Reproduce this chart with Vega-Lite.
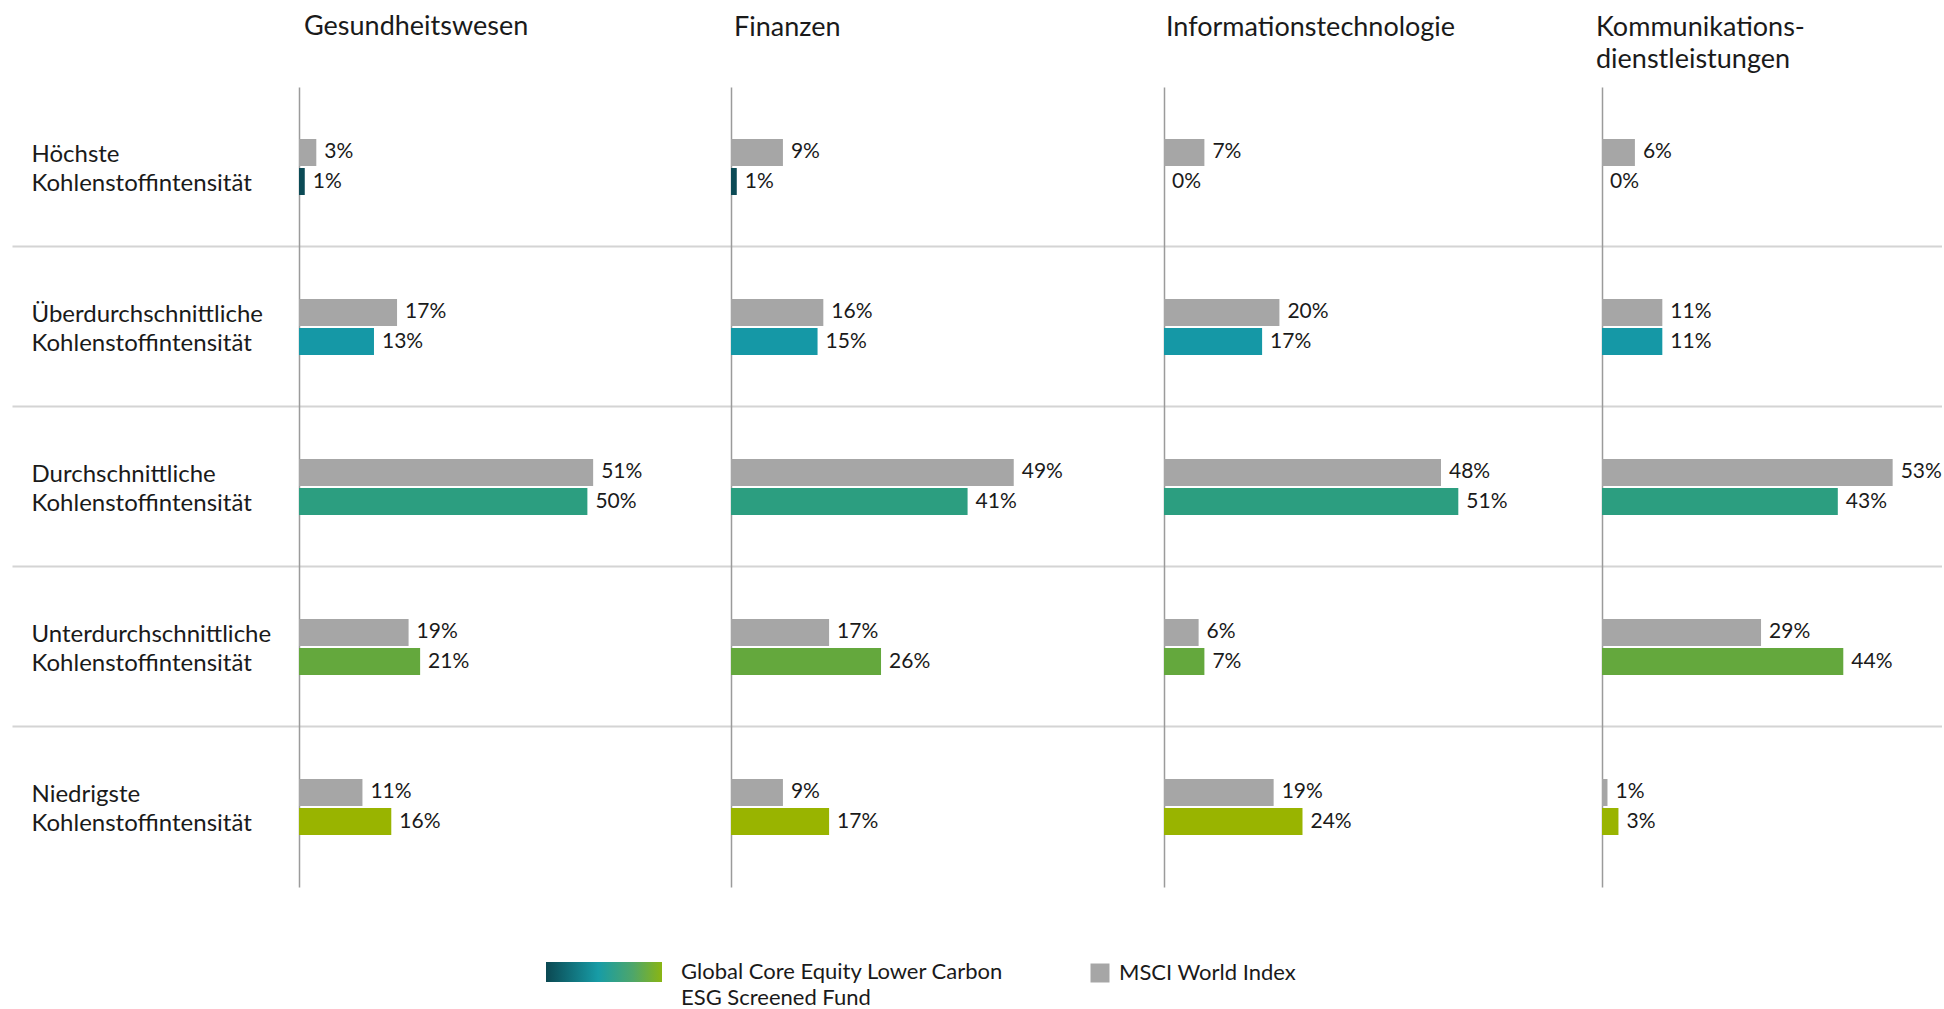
{
  "$schema": "https://vega.github.io/schema/vega-lite/v6.json",
  "padding": {"left": 11, "top": 13, "right": 0, "bottom": 0},
  "background": "white",
  "spacing": 0,
  "bounds": "flush",
  "config": {"view": {"stroke": null}, "font": "Lato", "style": {"guide-label": {"lineHeight": 26}}},
  "data": {"values": [
    {"sector": "Gesundheitswesen", "category": "Höchste Kohlenstoffintensität", "series": "MSCI World Index", "value": 0.03},
    {"sector": "Gesundheitswesen", "category": "Höchste Kohlenstoffintensität", "series": "Global Core Equity Lower Carbon ESG Screened Fund", "value": 0.01},
    {"sector": "Gesundheitswesen", "category": "Überdurchschnittliche Kohlenstoffintensität", "series": "MSCI World Index", "value": 0.17},
    {"sector": "Gesundheitswesen", "category": "Überdurchschnittliche Kohlenstoffintensität", "series": "Global Core Equity Lower Carbon ESG Screened Fund", "value": 0.13},
    {"sector": "Gesundheitswesen", "category": "Durchschnittliche Kohlenstoffintensität", "series": "MSCI World Index", "value": 0.51},
    {"sector": "Gesundheitswesen", "category": "Durchschnittliche Kohlenstoffintensität", "series": "Global Core Equity Lower Carbon ESG Screened Fund", "value": 0.50},
    {"sector": "Gesundheitswesen", "category": "Unterdurchschnittliche Kohlenstoffintensität", "series": "MSCI World Index", "value": 0.19},
    {"sector": "Gesundheitswesen", "category": "Unterdurchschnittliche Kohlenstoffintensität", "series": "Global Core Equity Lower Carbon ESG Screened Fund", "value": 0.21},
    {"sector": "Gesundheitswesen", "category": "Niedrigste Kohlenstoffintensität", "series": "MSCI World Index", "value": 0.11},
    {"sector": "Gesundheitswesen", "category": "Niedrigste Kohlenstoffintensität", "series": "Global Core Equity Lower Carbon ESG Screened Fund", "value": 0.16},
    {"sector": "Finanzen", "category": "Höchste Kohlenstoffintensität", "series": "MSCI World Index", "value": 0.09},
    {"sector": "Finanzen", "category": "Höchste Kohlenstoffintensität", "series": "Global Core Equity Lower Carbon ESG Screened Fund", "value": 0.01},
    {"sector": "Finanzen", "category": "Überdurchschnittliche Kohlenstoffintensität", "series": "MSCI World Index", "value": 0.16},
    {"sector": "Finanzen", "category": "Überdurchschnittliche Kohlenstoffintensität", "series": "Global Core Equity Lower Carbon ESG Screened Fund", "value": 0.15},
    {"sector": "Finanzen", "category": "Durchschnittliche Kohlenstoffintensität", "series": "MSCI World Index", "value": 0.49},
    {"sector": "Finanzen", "category": "Durchschnittliche Kohlenstoffintensität", "series": "Global Core Equity Lower Carbon ESG Screened Fund", "value": 0.41},
    {"sector": "Finanzen", "category": "Unterdurchschnittliche Kohlenstoffintensität", "series": "MSCI World Index", "value": 0.17},
    {"sector": "Finanzen", "category": "Unterdurchschnittliche Kohlenstoffintensität", "series": "Global Core Equity Lower Carbon ESG Screened Fund", "value": 0.26},
    {"sector": "Finanzen", "category": "Niedrigste Kohlenstoffintensität", "series": "MSCI World Index", "value": 0.09},
    {"sector": "Finanzen", "category": "Niedrigste Kohlenstoffintensität", "series": "Global Core Equity Lower Carbon ESG Screened Fund", "value": 0.17},
    {"sector": "Informationstechnologie", "category": "Höchste Kohlenstoffintensität", "series": "MSCI World Index", "value": 0.07},
    {"sector": "Informationstechnologie", "category": "Höchste Kohlenstoffintensität", "series": "Global Core Equity Lower Carbon ESG Screened Fund", "value": 0.0},
    {"sector": "Informationstechnologie", "category": "Überdurchschnittliche Kohlenstoffintensität", "series": "MSCI World Index", "value": 0.20},
    {"sector": "Informationstechnologie", "category": "Überdurchschnittliche Kohlenstoffintensität", "series": "Global Core Equity Lower Carbon ESG Screened Fund", "value": 0.17},
    {"sector": "Informationstechnologie", "category": "Durchschnittliche Kohlenstoffintensität", "series": "MSCI World Index", "value": 0.48},
    {"sector": "Informationstechnologie", "category": "Durchschnittliche Kohlenstoffintensität", "series": "Global Core Equity Lower Carbon ESG Screened Fund", "value": 0.51},
    {"sector": "Informationstechnologie", "category": "Unterdurchschnittliche Kohlenstoffintensität", "series": "MSCI World Index", "value": 0.06},
    {"sector": "Informationstechnologie", "category": "Unterdurchschnittliche Kohlenstoffintensität", "series": "Global Core Equity Lower Carbon ESG Screened Fund", "value": 0.07},
    {"sector": "Informationstechnologie", "category": "Niedrigste Kohlenstoffintensität", "series": "MSCI World Index", "value": 0.19},
    {"sector": "Informationstechnologie", "category": "Niedrigste Kohlenstoffintensität", "series": "Global Core Equity Lower Carbon ESG Screened Fund", "value": 0.24},
    {"sector": "Kommunikationsdienstleistungen", "category": "Höchste Kohlenstoffintensität", "series": "MSCI World Index", "value": 0.06},
    {"sector": "Kommunikationsdienstleistungen", "category": "Höchste Kohlenstoffintensität", "series": "Global Core Equity Lower Carbon ESG Screened Fund", "value": 0.0},
    {"sector": "Kommunikationsdienstleistungen", "category": "Überdurchschnittliche Kohlenstoffintensität", "series": "MSCI World Index", "value": 0.11},
    {"sector": "Kommunikationsdienstleistungen", "category": "Überdurchschnittliche Kohlenstoffintensität", "series": "Global Core Equity Lower Carbon ESG Screened Fund", "value": 0.11},
    {"sector": "Kommunikationsdienstleistungen", "category": "Durchschnittliche Kohlenstoffintensität", "series": "MSCI World Index", "value": 0.53},
    {"sector": "Kommunikationsdienstleistungen", "category": "Durchschnittliche Kohlenstoffintensität", "series": "Global Core Equity Lower Carbon ESG Screened Fund", "value": 0.43},
    {"sector": "Kommunikationsdienstleistungen", "category": "Unterdurchschnittliche Kohlenstoffintensität", "series": "MSCI World Index", "value": 0.29},
    {"sector": "Kommunikationsdienstleistungen", "category": "Unterdurchschnittliche Kohlenstoffintensität", "series": "Global Core Equity Lower Carbon ESG Screened Fund", "value": 0.44},
    {"sector": "Kommunikationsdienstleistungen", "category": "Niedrigste Kohlenstoffintensität", "series": "MSCI World Index", "value": 0.01},
    {"sector": "Kommunikationsdienstleistungen", "category": "Niedrigste Kohlenstoffintensität", "series": "Global Core Equity Lower Carbon ESG Screened Fund", "value": 0.03}
  ]},
  "hconcat": [
    {
      "width": 432, "height": 800,
      "title": {"text": ["Gesundheitswesen", ""], "anchor": "start", "frame": "group", "offset": 13, "dx": 5, "font": "Lato", "fontSize": 27, "fontWeight": "normal", "color": "#1a1a1a", "lineHeight": 32},
      "transform": [{"filter": {"field": "sector", "equal": "Gesundheitswesen"}}],
      "encoding": {
        "y": {"field": "category", "type": "nominal", "title": null,
          "sort": ["Höchste Kohlenstoffintensität", "Überdurchschnittliche Kohlenstoffintensität", "Durchschnittliche Kohlenstoffintensität", "Unterdurchschnittliche Kohlenstoffintensität", "Niedrigste Kohlenstoffintensität"],
          "scale": {"paddingInner": 0.2875, "paddingOuter": 0.14375},
          "axis": {"title": null, "bandPosition": -0.2018, "domain": true, "domainColor": "#9b9b9b", "domainWidth": 1.5,
            "grid": true, "gridColor": "#d4d4d4", "gridWidth": 2,
            "gridOpacity": {"condition": {"test": "datum.value === 'Höchste Kohlenstoffintensität'", "value": 0}, "value": 1},
            "ticks": true, "tickSize": 287, "tickColor": "#d4d4d4", "tickWidth": 2,
            "tickOpacity": {"condition": {"test": "datum.value === 'Höchste Kohlenstoffintensität'", "value": 0}, "value": 1},
            "labels": true, "labelAlign": "left", "labelBaseline": "middle", "labelPadding": -19, "labelOffset": -12,
            "labelFont": "Lato", "labelFontSize": 24, "labelColor": "#1a1a1a", "labelLimit": 0, "labelLineHeight": 29,
            "labelExpr": "split(datum.label, ' ')"}},
        "yOffset": {"field": "series", "type": "nominal", "sort": ["MSCI World Index", "Global Core Equity Lower Carbon ESG Screened Fund"], "scale": {"paddingInner": 0.07, "paddingOuter": 1}},
        "x": {"field": "value", "type": "quantitative", "scale": {"domain": [0, 0.749], "nice": false}, "axis": null}
      },
      "layer": [
        {"transform": [{"filter": {"field": "series", "equal": "MSCI World Index"}}],
         "mark": {"type": "bar", "color": "#a6a6a6"},
         "encoding": {
           "stroke": {"field": "series", "type": "nominal",
             "scale": {"domain": ["MSCI World Index"], "range": ["transparent"]},
             "legend": {"title": null, "orient": "none", "legendX": 790, "legendY": 875, "padding": 0,
               "symbolType": "square", "symbolSize": 361, "symbolStrokeWidth": 0,
               "labelFont": "Lato", "labelFontSize": 22, "labelColor": "#1a1a1a", "labelLimit": 0, "labelOffset": 8, "labelBaseline": "middle"}}
         }},
        {"transform": [{"filter": {"field": "series", "equal": "Global Core Equity Lower Carbon ESG Screened Fund"}}],
         "mark": {"type": "bar"},
         "encoding": {
           "color": {"field": "category", "type": "nominal",
             "scale": {"domain": ["Höchste Kohlenstoffintensität", "Überdurchschnittliche Kohlenstoffintensität", "Durchschnittliche Kohlenstoffintensität", "Unterdurchschnittliche Kohlenstoffintensität", "Niedrigste Kohlenstoffintensität"],
                       "range": ["#0b4a55", "#1598a6", "#2c9e80", "#64a83d", "#99b400"]}, "legend": null},
           "opacity": {"field": "series", "type": "nominal",
             "scale": {"domain": ["Global Core Equity Lower Carbon ESG Screened Fund"], "range": [1]},
             "legend": {"title": null, "orient": "none", "legendX": 247, "legendY": 827, "padding": 0,
               "symbolType": "M-1,-0.172H1V0.172H-1Z", "symbolSize": 13456, "symbolStrokeWidth": 0, "symbolStrokeColor": "transparent",
               "symbolFillColor": {"value": {"gradient": "linear", "x1": 0, "y1": 0, "x2": 1, "y2": 0,
                 "stops": [{"offset": 0, "color": "#0b4852"}, {"offset": 0.45, "color": "#179ca6"}, {"offset": 0.75, "color": "#4ea66a"}, {"offset": 1, "color": "#8ab513"}]}},
               "labelFont": "Lato", "labelFontSize": 22, "labelColor": "#1a1a1a", "labelLimit": 0, "labelOffset": 19, "labelBaseline": "middle",
               "labelExpr": "['Global Core Equity Lower Carbon', 'ESG Screened Fund']"}}
         }},
        {"mark": {"type": "text", "align": "left", "baseline": "middle", "dx": 8, "font": "Lato", "fontSize": 21, "color": "#1a1a1a"},
         "encoding": {"text": {"field": "value", "type": "quantitative", "format": ".0%"}}}
      ]
    },
    {
      "width": 433, "height": 800,
      "title": {"text": ["Finanzen", ""], "anchor": "start", "frame": "group", "offset": 13, "dx": 3, "font": "Lato", "fontSize": 27, "fontWeight": "normal", "color": "#1a1a1a", "lineHeight": 32},
      "transform": [{"filter": {"field": "sector", "equal": "Finanzen"}}],
      "encoding": {
        "y": {"field": "category", "type": "nominal", "title": null,
          "sort": ["Höchste Kohlenstoffintensität", "Überdurchschnittliche Kohlenstoffintensität", "Durchschnittliche Kohlenstoffintensität", "Unterdurchschnittliche Kohlenstoffintensität", "Niedrigste Kohlenstoffintensität"],
          "scale": {"paddingInner": 0.2875, "paddingOuter": 0.14375},
          "axis": {"title": null, "bandPosition": -0.2018, "domain": true, "domainColor": "#9b9b9b", "domainWidth": 1.5,
            "grid": true, "gridColor": "#d4d4d4", "gridWidth": 2,
            "gridOpacity": {"condition": {"test": "datum.value === 'Höchste Kohlenstoffintensität'", "value": 0}, "value": 1},
            "ticks": false, "labels": false}},
        "yOffset": {"field": "series", "type": "nominal", "sort": ["MSCI World Index", "Global Core Equity Lower Carbon ESG Screened Fund"], "scale": {"paddingInner": 0.07, "paddingOuter": 1}},
        "x": {"field": "value", "type": "quantitative", "scale": {"domain": [0, 0.7504], "nice": false}, "axis": null}
      },
      "layer": [
        {"mark": {"type": "bar"},
         "encoding": {
           "color": {"condition": {"test": "datum.series === 'MSCI World Index'", "value": "#a6a6a6"}, "field": "category", "type": "nominal",
             "scale": {"domain": ["Höchste Kohlenstoffintensität", "Überdurchschnittliche Kohlenstoffintensität", "Durchschnittliche Kohlenstoffintensität", "Unterdurchschnittliche Kohlenstoffintensität", "Niedrigste Kohlenstoffintensität"],
                       "range": ["#0b4a55", "#1598a6", "#2c9e80", "#64a83d", "#99b400"]}, "legend": null}
         }},
        {"mark": {"type": "text", "align": "left", "baseline": "middle", "dx": 8, "font": "Lato", "fontSize": 21, "color": "#1a1a1a"},
         "encoding": {"text": {"field": "value", "type": "quantitative", "format": ".0%"}}}
      ]
    },
    {
      "width": 438, "height": 800,
      "title": {"text": ["Informationstechnologie", ""], "anchor": "start", "frame": "group", "offset": 13, "dx": 2, "font": "Lato", "fontSize": 27, "fontWeight": "normal", "color": "#1a1a1a", "lineHeight": 32},
      "transform": [{"filter": {"field": "sector", "equal": "Informationstechnologie"}}],
      "encoding": {
        "y": {"field": "category", "type": "nominal", "title": null,
          "sort": ["Höchste Kohlenstoffintensität", "Überdurchschnittliche Kohlenstoffintensität", "Durchschnittliche Kohlenstoffintensität", "Unterdurchschnittliche Kohlenstoffintensität", "Niedrigste Kohlenstoffintensität"],
          "scale": {"paddingInner": 0.2875, "paddingOuter": 0.14375},
          "axis": {"title": null, "bandPosition": -0.2018, "domain": true, "domainColor": "#9b9b9b", "domainWidth": 1.5,
            "grid": true, "gridColor": "#d4d4d4", "gridWidth": 2,
            "gridOpacity": {"condition": {"test": "datum.value === 'Höchste Kohlenstoffintensität'", "value": 0}, "value": 1},
            "ticks": false, "labels": false}},
        "yOffset": {"field": "series", "type": "nominal", "sort": ["MSCI World Index", "Global Core Equity Lower Carbon ESG Screened Fund"], "scale": {"paddingInner": 0.07, "paddingOuter": 1}},
        "x": {"field": "value", "type": "quantitative", "scale": {"domain": [0, 0.759], "nice": false}, "axis": null}
      },
      "layer": [
        {"mark": {"type": "bar"},
         "encoding": {
           "color": {"condition": {"test": "datum.series === 'MSCI World Index'", "value": "#a6a6a6"}, "field": "category", "type": "nominal",
             "scale": {"domain": ["Höchste Kohlenstoffintensität", "Überdurchschnittliche Kohlenstoffintensität", "Durchschnittliche Kohlenstoffintensität", "Unterdurchschnittliche Kohlenstoffintensität", "Niedrigste Kohlenstoffintensität"],
                       "range": ["#0b4a55", "#1598a6", "#2c9e80", "#64a83d", "#99b400"]}, "legend": null}
         }},
        {"mark": {"type": "text", "align": "left", "baseline": "middle", "dx": 8, "font": "Lato", "fontSize": 21, "color": "#1a1a1a"},
         "encoding": {"text": {"field": "value", "type": "quantitative", "format": ".0%"}}}
      ]
    },
    {
      "width": 340, "height": 800,
      "title": {"text": ["Kommunikations-", "dienstleistungen"], "anchor": "start", "frame": "group", "offset": 13, "dx": -6, "font": "Lato", "fontSize": 27, "fontWeight": "normal", "color": "#1a1a1a", "lineHeight": 32},
      "transform": [{"filter": {"field": "sector", "equal": "Kommunikationsdienstleistungen"}}],
      "encoding": {
        "y": {"field": "category", "type": "nominal", "title": null,
          "sort": ["Höchste Kohlenstoffintensität", "Überdurchschnittliche Kohlenstoffintensität", "Durchschnittliche Kohlenstoffintensität", "Unterdurchschnittliche Kohlenstoffintensität", "Niedrigste Kohlenstoffintensität"],
          "scale": {"paddingInner": 0.2875, "paddingOuter": 0.14375},
          "axis": {"title": null, "bandPosition": -0.2018, "domain": true, "domainColor": "#9b9b9b", "domainWidth": 1.5,
            "grid": true, "gridColor": "#d4d4d4", "gridWidth": 2,
            "gridOpacity": {"condition": {"test": "datum.value === 'Höchste Kohlenstoffintensität'", "value": 0}, "value": 1},
            "ticks": false, "labels": false}},
        "yOffset": {"field": "series", "type": "nominal", "sort": ["MSCI World Index", "Global Core Equity Lower Carbon ESG Screened Fund"], "scale": {"paddingInner": 0.07, "paddingOuter": 1}},
        "x": {"field": "value", "type": "quantitative", "scale": {"domain": [0, 0.62], "nice": false}, "axis": null}
      },
      "layer": [
        {"mark": {"type": "bar"},
         "encoding": {
           "color": {"condition": {"test": "datum.series === 'MSCI World Index'", "value": "#a6a6a6"}, "field": "category", "type": "nominal",
             "scale": {"domain": ["Höchste Kohlenstoffintensität", "Überdurchschnittliche Kohlenstoffintensität", "Durchschnittliche Kohlenstoffintensität", "Unterdurchschnittliche Kohlenstoffintensität", "Niedrigste Kohlenstoffintensität"],
                       "range": ["#0b4a55", "#1598a6", "#2c9e80", "#64a83d", "#99b400"]}, "legend": null}
         }},
        {"mark": {"type": "text", "align": "left", "baseline": "middle", "dx": 8, "font": "Lato", "fontSize": 21, "color": "#1a1a1a"},
         "encoding": {"text": {"field": "value", "type": "quantitative", "format": ".0%"}}}
      ]
    }
  ]
}
